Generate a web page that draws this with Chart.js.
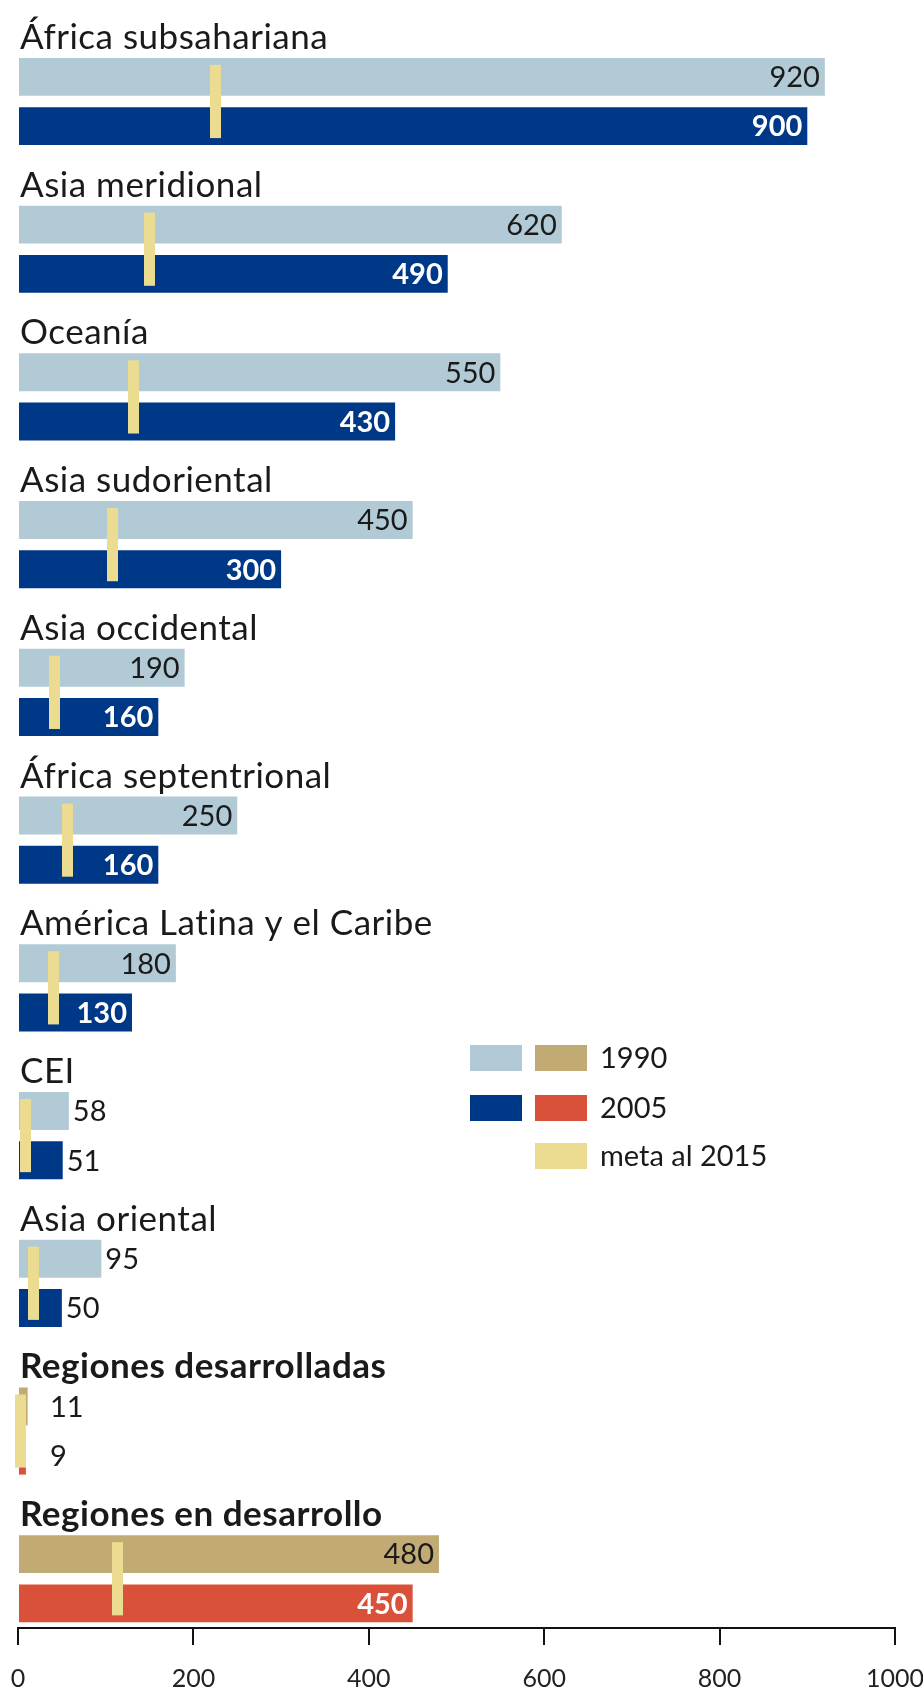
<!DOCTYPE html>
<html><head><meta charset="utf-8">
<script src="https://cdn.jsdelivr.net/npm/chart.js@4.4.0/dist/chart.umd.min.js"></script>
<style>html,body{margin:0;padding:0;background:#fff;} #wrap{position:relative;width:923px;height:1692px;}</style>
</head><body><div id="wrap"><canvas id="c" width="923" height="1692"></canvas></div>
<script>
const regions = ['África subsahariana','Asia meridional','Oceanía','Asia sudoriental','Asia occidental','África septentrional','América Latina y el Caribe','CEI','Asia oriental','Regiones desarrolladas','Regiones en desarrollo'];
const values1990 = [920,620,550,450,190,250,180,58,95,11,480];
const values2005 = [900,490,430,300,160,160,130,51,50,9,450];
const meta2015 = [225,150,132,108,42,57,40,9,18,3,113];
const aggregateRegions = ['Regiones desarrolladas','Regiones en desarrollo'];
const xTicks = [0,200,400,600,800,1000];
const legendLabels = ['1990','2005','meta al 2015'];

const C = {light:'#b2cad6', navy:'#003888', tan:'#c1aa73', red:'#d95138', yellow:'#ecdc91', text:'#1a1a1a'};
const FONT = 'Lato';
const isAgg = i => aggregateRegions.includes(regions[i]);

const overlay = {
  id:'overlay',
  afterDatasetsDraw(chart){
    const ctx = chart.ctx, xs = chart.scales.x, area = chart.chartArea;
    const m1 = chart.getDatasetMeta(1), m2 = chart.getDatasetMeta(2);
    ctx.save();
    // meta markers
    ctx.fillStyle = C.yellow;
    meta2015.forEach((v,i)=>{
      const b1 = m1.data[i], b2 = m2.data[i];
      const top = b1.y - b1.height/2 + 7;
      const bot = b2.y + b2.height/2 - 7;
      const px = xs.getPixelForValue(v);
      ctx.fillRect(Math.round(px-5.5), top, 11, bot-top);
    });
    // value labels
    ctx.textBaseline = 'middle';
    [[m1, values1990, false],[m2, values2005, true]].forEach(([m, vals, dark])=>{
      vals.forEach((v,i)=>{
        const b = m.data[i];
        const w = b.x - b.base;
        const t = String(v);
        if (w > 100) {
          ctx.font = (dark ? '700 ' : '400 ') + '29px ' + FONT;
          ctx.fillStyle = dark ? '#fff' : C.text;
          ctx.textAlign = 'right';
          ctx.fillText(t, b.x - 5, b.y + 1);
        } else {
          ctx.font = '400 29px ' + FONT;
          ctx.fillStyle = C.text;
          ctx.textAlign = 'left';
          ctx.fillText(t, Math.max(b.x + 4, area.left + 32), b.y + 1);
        }
      });
    });
    // group titles
    ctx.textAlign = 'left';
    ctx.textBaseline = 'alphabetic';
    if ('letterSpacing' in ctx) ctx.letterSpacing = '0.5px';
    regions.forEach((r,i)=>{
      const b1 = m1.data[i];
      ctx.font = (isAgg(i) ? '700 ' : '400 ') + '35px ' + FONT;
      ctx.fillStyle = C.text;
      ctx.fillText(r, area.left + 2, b1.y - b1.height/2 - 9);
    });
    if ('letterSpacing' in ctx) ctx.letterSpacing = '0px';
    // legend
    const lx = 470, sw = 52, sh = 26, gap = 13;
    const rows = [[C.light, C.tan], [C.navy, C.red], [null, C.yellow]];
    const ys = [1045, 1095, 1143];
    rows.forEach((r,k)=>{
      if (r[0]) { ctx.fillStyle = r[0]; ctx.fillRect(lx, ys[k], sw, sh); }
      ctx.fillStyle = r[1]; ctx.fillRect(lx + sw + gap, ys[k], sw, sh);
      ctx.fillStyle = C.text;
      ctx.font = '400 29px ' + FONT;
      ctx.textBaseline = 'middle';
      ctx.fillText(legendLabels[k], lx + 2*sw + gap + 13, ys[k] + sh/2 + 1);
    });
    ctx.restore();
  }
};

new Chart(document.getElementById('c'), {
  type:'bar',
  data:{
    labels: regions,
    datasets:[
      {label:'', data: regions.map(()=>null), backgroundColor:'rgba(0,0,0,0)'},
      {label: legendLabels[0], data: values1990, backgroundColor: ctx => isAgg(ctx.dataIndex) ? C.tan : C.light},
      {label: legendLabels[1], data: values2005, backgroundColor: ctx => isAgg(ctx.dataIndex) ? C.red : C.navy}
    ]
  },
  options:{
    indexAxis:'y',
    responsive:false,
    animation:false,
    events:[],
    layout:{padding:{left:18, right:28, top:3, bottom:0}},
    datasets:{bar:{categoryPercentage:1, barPercentage:0.77, borderWidth:0}},
    plugins:{legend:{display:false}, tooltip:{enabled:false}},
    scales:{
      y:{display:false},
      x:{
        min:0, max:1000,
        afterBuildTicks: s => { s.ticks = xTicks.map(v=>({value:v})); },
        afterFit: s => { s.paddingLeft = 0; s.paddingRight = 0; s.height = 64; },
        grid:{display:true, drawOnChartArea:false, drawTicks:true, tickLength:17, color:'#111', lineWidth:2},
        border:{display:true, color:'#111', width:2},
        ticks:{padding:19, color:'#222', font:{family:FONT, size:25}, maxRotation:0, autoSkip:false, callback: v => String(v)}
      }
    }
  },
  plugins:[overlay]
});
</script></body></html>
